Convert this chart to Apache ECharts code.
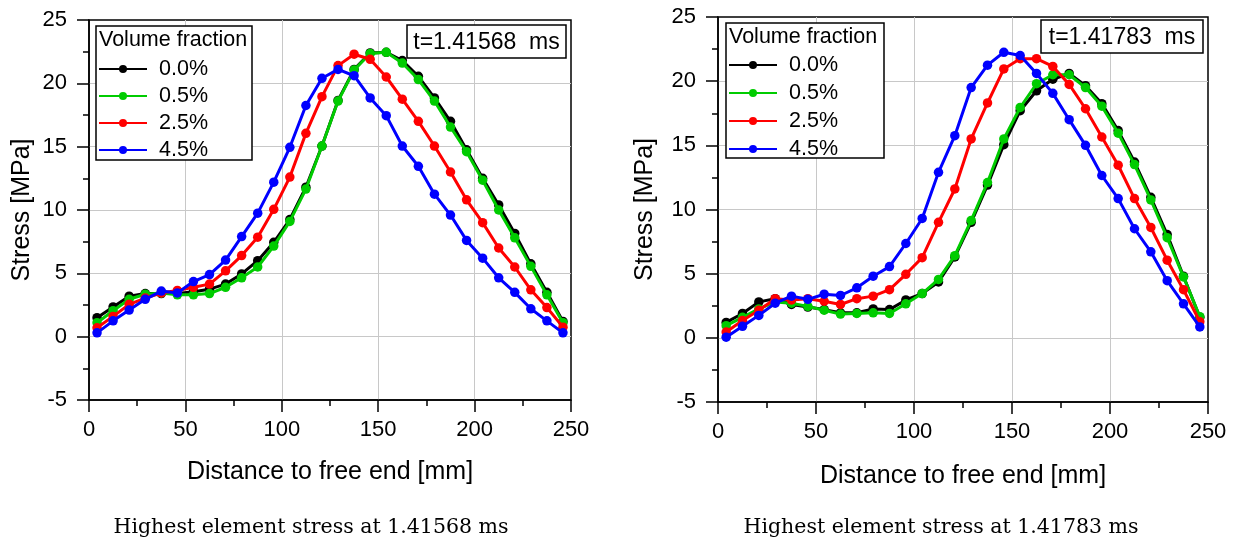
<!DOCTYPE html>
<html>
<head>
<meta charset="utf-8">
<script src="https://cdn.jsdelivr.net/npm/echarts@6/dist/echarts.min.js"></script>
<style>
html,body{margin:0;padding:0;background:#fff;}
#chart{width:1239px;height:543px;}
</style>
</head>
<body>
<div id="chart"></div>
<script>
// Element centre positions along the beam [mm]
const distances = [4.17, 12.5, 20.83, 29.17, 37.5, 45.83, 54.17, 62.5, 70.83, 79.17, 87.5, 95.83, 104.17, 112.5, 120.83, 129.17, 137.5, 145.83, 154.17, 162.5, 170.83, 179.17, 187.5, 195.83, 204.17, 212.5, 220.83, 229.17, 237.5, 245.83];

const seriesNames = ['0.0%', '0.5%', '2.5%', '4.5%'];
const seriesColors = ['#000000', '#00cc00', '#ff0000', '#0000ff'];

// Left panel: t = 1.41568 ms
const left_00 = [1.5, 2.35, 3.2, 3.4, 3.4, 3.4, 3.55, 3.75, 4.15, 4.95, 6.0, 7.45, 9.25, 11.8, 15.05, 18.65, 21.1, 22.4, 22.45, 21.8, 20.55, 18.85, 17.0, 14.75, 12.5, 10.4, 8.15, 5.75, 3.5, 1.2];
const left_05 = [1.1, 2.05, 2.95, 3.35, 3.45, 3.3, 3.3, 3.4, 3.9, 4.65, 5.5, 7.15, 9.1, 11.65, 15.05, 18.6, 21.05, 22.35, 22.45, 21.6, 20.3, 18.6, 16.55, 14.6, 12.35, 10.0, 7.8, 5.55, 3.3, 1.1];
const left_25 = [0.7, 1.6, 2.55, 3.05, 3.45, 3.65, 3.9, 4.15, 5.2, 6.4, 7.85, 10.05, 12.6, 16.05, 18.95, 21.4, 22.3, 21.9, 20.5, 18.75, 17.0, 15.05, 13.0, 10.8, 9.0, 7.0, 5.5, 3.7, 2.3, 0.75];
const left_45 = [0.3, 1.25, 2.1, 2.95, 3.6, 3.45, 4.35, 4.9, 6.05, 7.9, 9.75, 12.2, 14.95, 18.25, 20.4, 21.1, 20.6, 18.85, 17.45, 15.05, 13.45, 11.25, 9.6, 7.6, 6.2, 4.65, 3.5, 2.2, 1.25, 0.3];

// Right panel: t = 1.41783 ms
const right_00 = [1.2, 1.9, 2.8, 3.05, 2.6, 2.4, 2.2, 1.95, 1.95, 2.25, 2.2, 2.95, 3.45, 4.35, 6.3, 9.0, 11.9, 15.05, 17.7, 19.25, 20.15, 20.6, 19.65, 18.25, 16.15, 13.7, 10.95, 8.05, 4.8, 1.6];
const right_05 = [0.95, 1.6, 2.25, 2.8, 2.7, 2.45, 2.15, 1.85, 1.9, 1.95, 1.9, 2.65, 3.45, 4.55, 6.4, 9.15, 12.1, 15.5, 17.95, 19.8, 20.5, 20.5, 19.5, 18.05, 15.95, 13.5, 10.75, 7.8, 4.75, 1.65];
const right_25 = [0.45, 1.35, 2.15, 3.05, 2.95, 3.05, 2.85, 2.6, 3.05, 3.25, 3.75, 4.95, 6.25, 9.0, 11.6, 15.5, 18.3, 20.95, 21.75, 21.75, 21.15, 19.75, 17.85, 15.65, 13.45, 10.85, 8.6, 6.05, 3.75, 1.25];
const right_45 = [0.05, 0.9, 1.75, 2.7, 3.25, 3.0, 3.4, 3.3, 3.9, 4.8, 5.55, 7.35, 9.3, 12.9, 15.75, 19.5, 21.25, 22.25, 22.0, 20.6, 19.05, 17.0, 15.0, 12.65, 10.85, 8.5, 6.7, 4.45, 2.65, 0.85];

const xTitle = 'Distance to free end [mm]';
const yTitle = 'Stress [MPa]';
const legendTitle = 'Volume fraction';
const timeLabels = ['t=1.41568  ms', 't=1.41783  ms'];
const captions = ['Highest element stress at 1.41568 ms', 'Highest element stress at 1.41783 ms'];

const SANS = '"Liberation Sans", Arial, sans-serif';

const leftSets = [left_00, left_05, left_25, left_45];
const rightSets = [right_00, right_05, right_25, right_45];

function pairs(vals) { return vals.map((v, i) => [distances[i], v]); }

function mkX(gi, gap) {
  return {
    gridIndex: gi, type: 'value', min: 0, max: 250, interval: 50,
    name: xTitle, nameLocation: 'middle', nameGap: gap,
    nameTextStyle: { fontFamily: SANS, fontSize: 25, color: '#000' },
    axisLine: { show: true, onZero: false, lineStyle: { color: '#000', width: 1.5 } },
    axisTick: { show: true, inside: false, length: 12, lineStyle: { color: '#000', width: 1.5 } },
    minorTick: { show: true, splitNumber: 2, length: 6, lineStyle: { color: '#000', width: 1.5 } },
    splitLine: { show: true, showMinLine: false, showMaxLine: false, lineStyle: { color: '#c8c8c8', width: 1 } },
    axisLabel: { fontFamily: SANS, fontSize: 22, color: '#000', margin: 19 }
  };
}
function mkY(gi, gap) {
  return {
    gridIndex: gi, type: 'value', min: -5, max: 25, interval: 5,
    name: yTitle, nameLocation: 'middle', nameGap: gap,
    nameTextStyle: { fontFamily: SANS, fontSize: 25, color: '#000' },
    axisLine: { show: true, onZero: false, lineStyle: { color: '#000', width: 1.5 } },
    axisTick: { show: true, inside: false, length: 12, lineStyle: { color: '#000', width: 1.5 } },
    minorTick: { show: true, splitNumber: 2, length: 6, lineStyle: { color: '#000', width: 1.5 } },
    splitLine: { show: true, showMinLine: false, showMaxLine: false, lineStyle: { color: '#c8c8c8', width: 1 } },
    axisLabel: { fontFamily: SANS, fontSize: 22, color: '#000', margin: 22 }
  };
}

const series = [];
[leftSets, rightSets].forEach((sets, gi) => {
  sets.forEach((vals, k) => {
    series.push({
      name: seriesNames[k], type: 'line', xAxisIndex: gi, yAxisIndex: gi,
      data: pairs(vals), symbol: 'circle', symbolSize: 9.5, showSymbol: true,
      lineStyle: { color: seriesColors[k], width: 3 },
      itemStyle: { color: seriesColors[k] },
      z: 2 + k * 0.01
    });
  });
});

function mkLegend(left, top, gap) {
  return {
    orient: 'vertical', left: left, top: top, padding: 0, itemGap: gap,
    itemWidth: 48, itemHeight: 10, data: seriesNames, selectedMode: false,
    textStyle: { fontFamily: SANS, fontSize: 21.5, color: '#000', padding: [0, 0, 0, 7] },
    z: 6
  };
}

const boxes = [
  { lx: 96, ly: 26, lw: 156, lh: 134, tx: 99, ty: 40, tb: [407, 25, 159, 33] },
  { lx: 726, ly: 23, lw: 158, lh: 135, tx: 729, ty: 37, tb: [1041, 20, 162, 33] }
];
const graphics = [];
boxes.forEach((b, i) => {
  graphics.push({ type: 'rect', z: 5, shape: { x: b.lx, y: b.ly, width: b.lw, height: b.lh },
    style: { fill: '#fff', stroke: '#000', lineWidth: 1.5 } });
  graphics.push({ type: 'text', z: 7, x: b.tx, y: b.ty,
    style: { text: legendTitle, font: '21.5px ' + SANS, fill: '#000', textVerticalAlign: 'middle' } });
  graphics.push({ type: 'rect', z: 5, shape: { x: b.tb[0], y: b.tb[1], width: b.tb[2], height: b.tb[3] },
    style: { fill: '#fff', stroke: '#000', lineWidth: 1.5 } });
  graphics.push({ type: 'text', z: 7, x: b.tb[0] + b.tb[2] / 2, y: b.tb[1] + b.tb[3] / 2 + 1,
    style: { text: timeLabels[i], font: '23px ' + SANS, fill: '#000', textAlign: 'center', textVerticalAlign: 'middle' } });
});
graphics.push({ type: 'text', x: 311, y: 528, style: { text: captions[0], font: '20.5px "DejaVu Serif", serif', fill: '#000', textAlign: 'center', textVerticalAlign: 'middle' } });
graphics.push({ type: 'text', x: 941, y: 528, style: { text: captions[1], font: '20.5px "DejaVu Serif", serif', fill: '#000', textAlign: 'center', textVerticalAlign: 'middle' } });

const chart = echarts.init(document.getElementById('chart'), null, { renderer: 'canvas' });
chart.setOption({
  animation: false,
  backgroundColor: '#fff',
  grid: [
    { left: 89, top: 20, width: 482, height: 380, show: true, borderColor: '#000', borderWidth: 1.5, backgroundColor: 'transparent' },
    { left: 718, top: 17, width: 490, height: 385, show: true, borderColor: '#000', borderWidth: 1.5, backgroundColor: 'transparent' }
  ],
  xAxis: [mkX(0, 60), mkX(1, 62)],
  yAxis: [mkY(0, 54), mkY(1, 60)],
  legend: [mkLegend(98, 58, 5), mkLegend(728, 54, 6)],
  series: series,
  graphic: graphics
});
</script>
</body>
</html>
